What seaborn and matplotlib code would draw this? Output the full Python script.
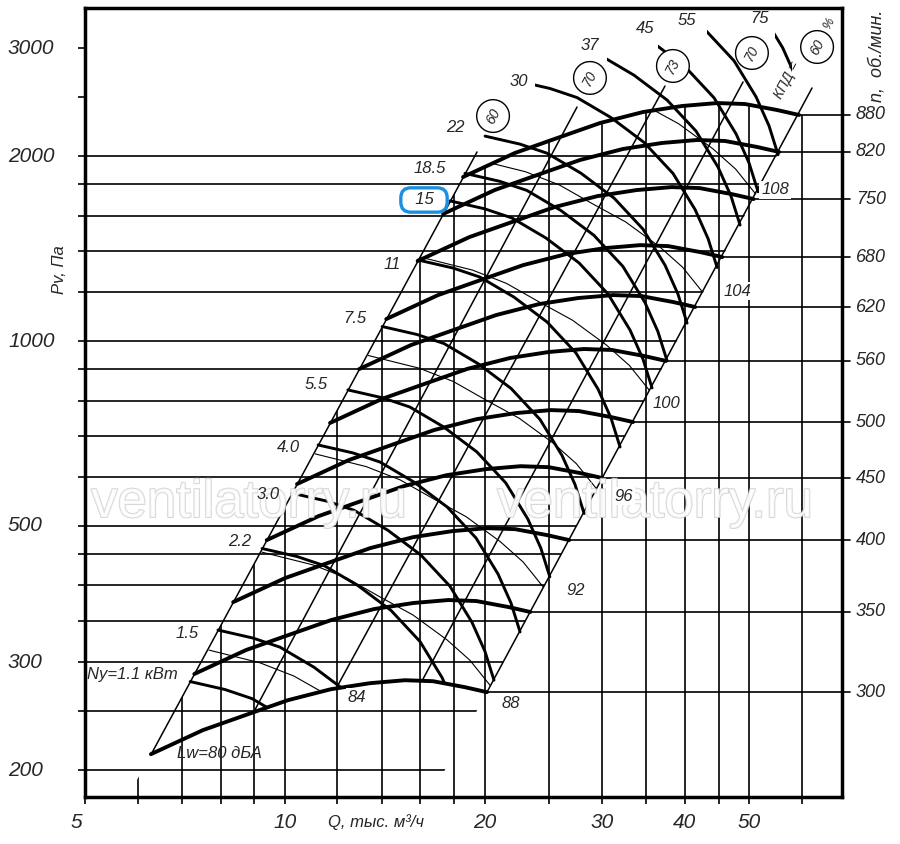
import numpy as np
import pandas as pd
import matplotlib.pyplot as plt
import seaborn as sns
from matplotlib.patches import Polygon
import matplotlib.patheffects as pe

# pressure curve at 880 rpm: Q in thousand m3/h, Pv in Pa
q880 = [18.55, 22.2, 25.97, 29.83, 34.61, 39.63, 44.75, 49.31, 55.1, 59.47]
p880 = [1850, 2024, 2149, 2265, 2360, 2414, 2441, 2432, 2378, 2334]
rpm = [300, 350, 400, 450, 500, 560, 620, 680, 750, 820, 880]
# pressure at the right end of each rpm curve (where the rpm line is drawn)
rpm_end_p = [268, 362, 474, 598, 738, 928, 1136, 1370, 1703, 2032, 2334]

# motor power line for 11 kW, the others are the same line moved along the 60 % edge
kw11_q = [15.87, 17.91, 19.67, 22.13, 24.82, 27.44, 29.62, 30.98, 31.97]
kw11_p = [1355, 1315, 1271, 1179, 1074, 956, 835, 749, 672]
kw_names = ["Ny=1.1 кВт", "1.5", "2.2", "3.0", "4.0", "5.5", "7.5", "11", "15",
            "18.5", "22", "30", "37", "45", "55", "75"]
kw_q0 = [7.20, 7.93, 9.24, 10.25, 11.22, 12.44, 14.01, 15.87, 17.73,
         18.67, 20.02, 22.22, 24.06, 25.61, 27.45, 30.1]
kw_lab_q = [5.885, 7.12, 8.56, 9.43, 10.11, 11.14, 12.75, 14.5, 16.2,
            16.54, 18.04, 22.52, 28.8, 34.86, 40.3, 51.9]
kw_lab_p = [286, 334, 472, 563, 672, 848, 1090, 1330, 1697,
            1913, 2223, 2642, 3034, 3234, 3332, 3357]
# visible part of the lines running above the field
kw_cut = {"30": (23.8, 999), "37": (30.6, 999), "45": (36.5, 999),
          "55": (43.2, 999), "75": (54.7, 58.0)}

# noise line Lw = 88 dBA
lw88_q = [9.24, 11.02, 12.40, 13.91, 15.59, 17.55, 19.00, 20.37]
lw88_p = [453, 432, 411, 383, 358, 326, 302, 275]
lw_db = ["84", "88", "92", "96", "100", "104", "108"]
lw_q0 = [7.69, 9.24, 11.11, 13.36, 16.06, 19.31, 23.21]
lw_lab_q = [12.84, 21.9, 27.4, 32.4, 37.6, 48.0, 54.7]
lw_lab_p = [263, 257, 392, 559, 792, 1206, 1762]

# efficiency lines (bottom end, top end)
eff_names = ["60", "70", "73", "70", "60"]
eff_q = [(6.30, 19.47), (9.0, 27.54), (11.95, 37.36), (16.1, 48.97), (20.15, 62.2)]
eff_p = [(213, 2032), (250, 2405), (272, 2602), (280, 2642), (268, 2583)]
eff_lab_q = [20.58, 28.8, 38.4, 50.5, 63.3]
eff_lab_p = [2325, 2682, 2805, 2945, 3012]

q_grid = [6, 7, 8, 9, 10, 12, 14, 16, 18, 20, 25, 30, 35, 40, 45, 50, 60]
p_grid = [200, 250, 300, 350, 400, 450, 500, 600, 700, 800, 900, 1000,
          1200, 1400, 1600, 1800, 2000]
q_labels = [5, 10, 20, 30, 40, 50]
p_labels = [200, 300, 500, 1000, 2000, 3000]

sns.set_style("white")
plt.rcParams["font.family"] = ["Liberation Sans", "DejaVu Sans"]
plt.rcParams["font.style"] = "italic"

fig = plt.figure(figsize=(9, 8.44), dpi=100)
ax = fig.add_axes([0.0944, 0.0557, 0.8411, 0.9348])
ax.set_xscale("log")
ax.set_yscale("log")
ax.set_xlim(5, 69.0)
ax.set_ylim(180.9, 3486)

scale = [np.sqrt(p / rpm_end_p[-1]) for p in rpm_end_p]
q_top = np.array(q880)
p_top = np.array(p880)
q_bot = q_top * scale[0]
p_bot = p_top * scale[0] ** 2


def clip(verts):
    return Polygon(verts, closed=True, transform=ax.transData)


hi = 1e5
region = clip(list(zip(q_bot, p_bot)) + list(zip(q_top[::-1], p_top[::-1])))
above = clip([(1, p_bot[0])] + list(zip(q_bot, p_bot)) + [(500, p_bot[-1]), (500, hi), (1, hi)])
k_left = p_bot[0] / q_bot[0] ** 2
k_right = p_bot[-1] / q_bot[-1] ** 2
under = clip([(1, 1), (1, k_left)] + list(zip(q_top, p_top)) + [(61, p_top[-1]), (61, 1)])
left_of = clip([(1, 1), (1, hi), (np.sqrt(hi / k_right), hi), (np.sqrt(1 / k_right), 1)])

# grid
vl = ax.vlines(q_grid, 180.9, 3486, color="black", lw=1.2, zorder=1)
vl.set_clip_path(under)
hl = ax.hlines(p_grid, 5, 69, color="black", lw=1.2, zorder=1)
hl.set_clip_path(left_of)

# efficiency lines
for q, p in zip(eff_q, eff_p):
    ax.plot(q, p, color="black", lw=1.1, zorder=2)
for name, q, p in zip(eff_names, eff_lab_q, eff_lab_p):
    ax.text(q, p, name, rotation=62, fontsize=10, ha="center", va="center", zorder=7,
            bbox=dict(boxstyle="circle,pad=0.62", fc="white", ec="black", lw=1))
ax.text(57.0, 2661, "КПД =", rotation=62, fontsize=10, ha="center", va="center", zorder=7)
ax.text(66.0, 3283, "%", rotation=62, fontsize=9, ha="center", va="center", zorder=7)

# noise lines
for db, q0 in zip(lw_db, lw_q0):
    r = q0 / lw88_q[0]
    ln, = ax.plot(np.array(lw88_q) * r, np.array(lw88_p) * r ** 2, color="black", lw=0.8, zorder=2)
    ln.set_clip_path(region)
for db, q, p in zip(lw_db, lw_lab_q, lw_lab_p):
    ax.text(q, p, db, fontsize=12, ha="center", va="center", zorder=7,
            bbox=dict(boxstyle="square,pad=0.1", fc="white", ec="none"))
ax.text(7.96, 213, "Lw=80 дБА", fontsize=12, ha="center", va="center", zorder=7)

# power lines
for name, q0 in zip(kw_names, kw_q0):
    r = q0 / kw11_q[0]
    ln, = ax.plot(np.array(kw11_q) * r, np.array(kw11_p) * r ** 2, color="black", lw=2.1, zorder=3)
    if name in kw_cut:
        a, b = kw_cut[name]
        ln.set_clip_path(clip([(a, 1), (b, 1), (b, hi), (a, hi)]))
    else:
        ln.set_clip_path(above)
for name, q, p in zip(kw_names, kw_lab_q, kw_lab_p):
    if name == "15":
        ax.text(q, p, "  15  ", fontsize=12, ha="center", va="center", zorder=7,
                bbox=dict(boxstyle="round,pad=0.28,rounding_size=0.6", fc="white",
                          ec="#1a8fe0", lw=2.4))
    else:
        ax.text(q, p, name, fontsize=12, ha="center", va="center", zorder=7)

# fan curves
fan = pd.DataFrame([(n, q * s, p * s ** 2) for n, s in zip(rpm, scale) for q, p in zip(q880, p880)],
                   columns=["rpm", "q", "p"])
sns.lineplot(data=fan, x="q", y="p", units="rpm", estimator=None, sort=False,
             color="black", lw=2.8, zorder=4, ax=ax, legend=False)
for n, s, pe_ in zip(rpm, scale, rpm_end_p):
    qe = q880[-1] * s
    ax.plot([qe, 70.9], [pe_, pe_], color="black", lw=1.2, zorder=1, clip_on=False)
    ax.text(1.0185, pe_, str(n), transform=ax.get_yaxis_transform(), fontsize=13,
            ha="left", va="center")

# axes
ax.set_xticks([5] + q_grid)
ax.set_yticks(p_grid + [2500, 3000])
ax.minorticks_off()
ax.set_xticklabels([])
ax.set_yticklabels([])
ax.set_xlabel("")
ax.set_ylabel("")
ax.tick_params(direction="out", length=5, width=1.2, color="black",
               bottom=True, left=True, top=False, right=False)
for s in ax.spines.values():
    s.set_linewidth(2.5)
    s.set_color("black")

for v in q_labels:
    ax.text(4.86 if v == 5 else v, -0.032, str(v), transform=ax.get_xaxis_transform(),
            fontsize=15, ha="center", va="center")
for v in p_labels:
    ax.text(-0.1017, v, str(v), transform=ax.get_yaxis_transform(),
            fontsize=15, ha="left", va="center")
ax.text(13.72, -0.032, "Q, тыс. м³/ч", transform=ax.get_xaxis_transform(),
        fontsize=12, ha="center", va="center")
ax.text(-0.033, 0.668, "Pv, Па", transform=ax.transAxes, rotation=90,
        fontsize=12, ha="center", va="center")
ax.text(1.0462, 0.939, "n,  об./мин.", transform=ax.transAxes, rotation=90,
        fontsize=13, ha="center", va="center")

# watermark, kept under the labels
for x in (0.2166, 0.753):
    ax.text(x, 0.3726, "ventilatorry.ru", transform=ax.transAxes, fontsize=38,
            style="normal", color="white", alpha=0.8, ha="center", va="center", zorder=6,
            path_effects=[pe.withStroke(linewidth=1.4, foreground="#cdcdcd")])

fig.savefig("out.png", dpi=100)
